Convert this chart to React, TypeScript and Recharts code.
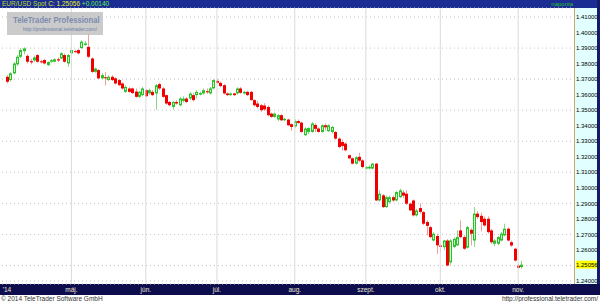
import React from 'react';
import { ComposedChart, Bar, XAxis, YAxis, CartesianGrid, ReferenceLine } from 'recharts';

// Daily EUR/USD candles, 4 Apr 2014 .. 4 Nov 2014
const opens = [
  1.3715, 1.3694, 1.3737, 1.3795, 1.3844, 1.3880, 1.3850, 1.3816, 1.3820, 1.3855,
  1.3815, 1.3823, 1.3790, 1.3812, 1.3812, 1.3828, 1.3833, 1.3855, 1.3801, 1.3866,
  1.3880, 1.3887, 1.3900, 1.3920, 1.3908, 1.3833, 1.3747, 1.3758, 1.3705, 1.3712,
  1.3694, 1.3715, 1.3705, 1.3694, 1.3672, 1.3618, 1.3640, 1.3640, 1.3620, 1.3586,
  1.3597, 1.3629, 1.3608, 1.3618, 1.3608, 1.3668, 1.3640, 1.3597, 1.3553, 1.3521,
  1.3553, 1.3532, 1.3560, 1.3575, 1.3575, 1.3597, 1.3597, 1.3600, 1.3608, 1.3622,
  1.3608, 1.3640, 1.3689, 1.3676, 1.3661, 1.3608, 1.3597, 1.3608, 1.3608, 1.3640,
  1.3608, 1.3618, 1.3618, 1.3565, 1.3543, 1.3532, 1.3530, 1.3521, 1.3478, 1.3457,
  1.3440, 1.3468, 1.3435, 1.3440, 1.3410, 1.3395, 1.3430, 1.3420, 1.3339, 1.3360,
  1.3360, 1.3405, 1.3382, 1.3360, 1.3403, 1.3365, 1.3360, 1.3360, 1.3317, 1.3295,
  1.3285, 1.3210, 1.3190, 1.3156, 1.3200, 1.3177, 1.3124, 1.3125, 1.3124, 1.3156,
  1.2919, 1.2952, 1.2876, 1.2908, 1.2940, 1.2919, 1.2940, 1.2970, 1.2962, 1.2898,
  1.2919, 1.2823, 1.2870, 1.2844, 1.2780, 1.2747, 1.2661, 1.2690, 1.2629, 1.2618,
  1.2661, 1.2520, 1.2620, 1.2630, 1.2726, 1.2683, 1.2615, 1.2730, 1.2661, 1.2834,
  1.2820, 1.2801, 1.2801, 1.2726, 1.2640, 1.2640, 1.2661, 1.2694, 1.2737, 1.2650,
  1.2608, 1.2500, 1.2490,
];
const highs = [
  1.3726, 1.3745, 1.3810, 1.3855, 1.3900, 1.3905, 1.3860, 1.3830, 1.3850, 1.3862,
  1.3825, 1.3830, 1.3815, 1.3830, 1.3835, 1.3840, 1.3875, 1.3865, 1.3862, 1.3895,
  1.3890, 1.3895, 1.3950, 1.3945, 1.3993, 1.3840, 1.3775, 1.3765, 1.3740, 1.3745,
  1.3725, 1.3725, 1.3712, 1.3700, 1.3680, 1.3660, 1.3648, 1.3645, 1.3640, 1.3625,
  1.3650, 1.3635, 1.3640, 1.3630, 1.3670, 1.3677, 1.3648, 1.3600, 1.3560, 1.3560,
  1.3565, 1.3585, 1.3590, 1.3585, 1.3615, 1.3610, 1.3630, 1.3620, 1.3640, 1.3640,
  1.3650, 1.3700, 1.3700, 1.3685, 1.3668, 1.3615, 1.3615, 1.3612, 1.3648, 1.3650,
  1.3625, 1.3625, 1.3625, 1.3570, 1.3560, 1.3540, 1.3545, 1.3530, 1.3485, 1.3485,
  1.3475, 1.3475, 1.3450, 1.3445, 1.3415, 1.3440, 1.3440, 1.3425, 1.3390, 1.3390,
  1.3425, 1.3415, 1.3390, 1.3410, 1.3415, 1.3410, 1.3400, 1.3365, 1.3325, 1.3310,
  1.3292, 1.3215, 1.3195, 1.3205, 1.3225, 1.3185, 1.3142, 1.3145, 1.3160, 1.3160,
  1.2984, 1.2960, 1.2950, 1.2950, 1.2950, 1.2980, 1.2995, 1.2984, 1.2984, 1.2905,
  1.2925, 1.2865, 1.2900, 1.2850, 1.2790, 1.2755, 1.2715, 1.2705, 1.2640, 1.2665,
  1.2670, 1.2670, 1.2680, 1.2726, 1.2790, 1.2695, 1.2755, 1.2740, 1.2876, 1.2850,
  1.2840, 1.2815, 1.2815, 1.2735, 1.2670, 1.2690, 1.2715, 1.2769, 1.2745, 1.2660,
  1.2615, 1.2510, 1.2530,
];
const lows = [
  1.3672, 1.3685, 1.3730, 1.3785, 1.3835, 1.3860, 1.3800, 1.3795, 1.3812, 1.3805,
  1.3800, 1.3795, 1.3785, 1.3805, 1.3808, 1.3810, 1.3828, 1.3805, 1.3779, 1.3860,
  1.3870, 1.3860, 1.3895, 1.3915, 1.3835, 1.3740, 1.3740, 1.3700, 1.3700, 1.3660,
  1.3688, 1.3688, 1.3665, 1.3655, 1.3632, 1.3612, 1.3612, 1.3605, 1.3580, 1.3578,
  1.3590, 1.3585, 1.3600, 1.3590, 1.3503, 1.3630, 1.3580, 1.3535, 1.3525, 1.3505,
  1.3535, 1.3525, 1.3550, 1.3545, 1.3565, 1.3555, 1.3575, 1.3595, 1.3600, 1.3605,
  1.3600, 1.3635, 1.3670, 1.3648, 1.3600, 1.3590, 1.3590, 1.3590, 1.3600, 1.3605,
  1.3600, 1.3590, 1.3560, 1.3525, 1.3510, 1.3490, 1.3495, 1.3460, 1.3450, 1.3450,
  1.3430, 1.3430, 1.3428, 1.3398, 1.3368, 1.3388, 1.3412, 1.3355, 1.3333, 1.3345,
  1.3355, 1.3360, 1.3355, 1.3355, 1.3370, 1.3360, 1.3350, 1.3310, 1.3255, 1.3240,
  1.3235, 1.3185, 1.3150, 1.3150, 1.3165, 1.3125, 1.3118, 1.3118, 1.3118, 1.2915,
  1.2912, 1.2870, 1.2870, 1.2900, 1.2910, 1.2912, 1.2935, 1.2935, 1.2890, 1.2850,
  1.2815, 1.2815, 1.2835, 1.2760, 1.2694, 1.2675, 1.2655, 1.2575, 1.2590, 1.2600,
  1.2495, 1.2505, 1.2610, 1.2625, 1.2675, 1.2600, 1.2610, 1.2630, 1.2620, 1.2800,
  1.2720, 1.2750, 1.2705, 1.2640, 1.2625, 1.2630, 1.2655, 1.2688, 1.2655, 1.2620,
  1.2525, 1.2480, 1.2480,
];
const closes = [
  1.3683, 1.3737, 1.3801, 1.3844, 1.3887, 1.3898, 1.3812, 1.3808, 1.3840, 1.3812,
  1.3808, 1.3801, 1.3810, 1.3822, 1.3828, 1.3820, 1.3866, 1.3812, 1.3855, 1.3887,
  1.3876, 1.3866, 1.3941, 1.3930, 1.3844, 1.3747, 1.3768, 1.3705, 1.3726, 1.3706,
  1.3715, 1.3694, 1.3672, 1.3661, 1.3640, 1.3650, 1.3618, 1.3610, 1.3586, 1.3618,
  1.3640, 1.3590, 1.3629, 1.3597, 1.3661, 1.3640, 1.3586, 1.3543, 1.3532, 1.3553,
  1.3543, 1.3575, 1.3575, 1.3553, 1.3607, 1.3565, 1.3618, 1.3610, 1.3629, 1.3615,
  1.3640, 1.3694, 1.3676, 1.3655, 1.3608, 1.3597, 1.3608, 1.3597, 1.3640, 1.3612,
  1.3618, 1.3597, 1.3565, 1.3532, 1.3521, 1.3500, 1.3505, 1.3468, 1.3457, 1.3478,
  1.3468, 1.3435, 1.3445, 1.3403, 1.3392, 1.3430, 1.3418, 1.3360, 1.3382, 1.3385,
  1.3414, 1.3380, 1.3360, 1.3403, 1.3390, 1.3403, 1.3392, 1.3317, 1.3263, 1.3270,
  1.3242, 1.3190, 1.3156, 1.3197, 1.3175, 1.3134, 1.3134, 1.3135, 1.3156, 1.2919,
  1.2962, 1.2876, 1.2940, 1.2940, 1.2919, 1.2973, 1.2984, 1.2950, 1.2898, 1.2855,
  1.2823, 1.2855, 1.2845, 1.2769, 1.2755, 1.2683, 1.2705, 1.2630, 1.2620, 1.2661,
  1.2500, 1.2661, 1.2672, 1.2683, 1.2683, 1.2608, 1.2747, 1.2705, 1.2834, 1.2812,
  1.2780, 1.2758, 1.2715, 1.2650, 1.2661, 1.2683, 1.2705, 1.2737, 1.2661, 1.2629,
  1.2532, 1.2485, 1.25056,
];

const monthSlots = [0, 20, 42, 63, 86, 107, 129, 152];
const monthLabels = ["'14", 'máj.', 'jún.', 'júl.', 'aug.', 'szept.', 'okt.', 'nov.'];
const priceTicks = [1.24, 1.25, 1.26, 1.27, 1.28, 1.29, 1.30, 1.31, 1.32, 1.33, 1.34, 1.35, 1.36, 1.37, 1.38, 1.39, 1.40, 1.41];
const lastPrice = 1.25056;

const LEAD = 1;
const TOTAL_SLOTS = 169;

const data = Array.from({ length: TOTAL_SLOTS }, (_, s) => {
  const i = s - LEAD;
  if (i >= 0 && i < opens.length) {
    return { s, o: opens[i], h: highs[i], l: lows[i], c: closes[i], range: [lows[i], highs[i]] };
  }
  return { s, range: null };
});

const FONT = '"Liberation Sans", Arial, sans-serif';

const Candle = (props: any) => {
  const { x, y, width, height, payload } = props;
  if (!payload || payload.o == null || x == null) return null;
  const { o, h, l, c } = payload;
  const top = Math.min(y, y + height);
  const hh = Math.abs(height);
  const py = (p: number) => (h === l ? top : top + ((h - p) / (h - l)) * hh);
  const up = c >= o;
  const cx = Math.round(x + width / 2) + 0.5;
  const bTop = py(Math.max(o, c));
  const bBot = py(Math.min(o, c));
  const bh = Math.max(bBot - bTop, 1);
  return (
    <g>
      <line x1={cx} x2={cx} y1={top} y2={top + hh} stroke={up ? '#86dc86' : '#f39a9a'} strokeWidth={1} />
      {up ? (
        <rect x={cx - 1} y={bTop + 0.5} width={2} height={Math.max(bh - 1, 0.5)} fill="#c8f7c8" stroke="#2cc02c" strokeWidth={1} />
      ) : (
        <rect x={cx - 1.5} y={bTop} width={3} height={bh} fill="#f00000" />
      )}
    </g>
  );
};

const MonthTick = (props: any) => {
  const { x, payload } = props;
  const k = monthSlots.indexOf(payload.value);
  if (k < 0) return null;
  const first = k === 0;
  return (
    <text x={first ? x - 1 : x} y={292} textAnchor={first ? 'start' : 'middle'} fontSize={6.5} fontFamily={FONT} fill="#ece8cc">
      {monthLabels[k]}
    </text>
  );
};

const PriceLabel = (props: any) => {
  const vb = props.viewBox || {};
  const xr = (vb.x || 0) + (vb.width || 0);
  const yy = vb.y || 0;
  return (
    <g>
      <rect x={xr + 2} y={yy - 4} width={21} height={8} fill="#ffff00" />
      <text x={xr + 2} y={yy + 2.3} fontSize={6} fontFamily={FONT} fill="#000">{lastPrice.toFixed(5)}</text>
    </g>
  );
};

export default function App() {
  return (
    <div style={{ position: 'fixed', left: 0, top: 0, width: 600, height: 302, background: '#fff', overflow: 'hidden', fontFamily: FONT }}>
      {/* header bar */}
      <div style={{ position: 'absolute', left: 0, top: 0, width: 600, height: 8, background: '#1b2c93' }} />
      <div style={{ position: 'absolute', left: 2, top: 0, height: 8, lineHeight: '8px', fontSize: 6.5, whiteSpace: 'nowrap' }}>
        <span style={{ color: '#b6dc1e' }}>EUR/USD Spot</span>
        <span style={{ color: '#e4f020' }}> C: 1.25056 </span>
        <span style={{ color: '#5cf04a' }}>+0.00140</span>
      </div>
      <div style={{ position: 'absolute', left: 548, width: 25, top: 0, height: 8, lineHeight: '8px', fontSize: 6, color: '#22c42a', textAlign: 'right' }}>naponta</div>
      {/* right axis panel */}
      <div style={{ position: 'absolute', left: 574, top: 8, width: 23, height: 276, background: '#e2ffff' }} />
      <div style={{ position: 'absolute', left: 574, top: 8, width: 1, height: 276, background: '#c9a865' }} />
      <div style={{ position: 'absolute', left: 597, top: 0, width: 3, height: 295, background: '#141a6e' }} />
      {/* bottom band */}
      <div style={{ position: 'absolute', left: 0, top: 284, width: 600, height: 11, background: '#0d0d4d' }} />
      {/* chart */}
      <div style={{ position: 'absolute', left: 0, top: 0 }}>
        <ComposedChart width={600} height={295} data={data} margin={{ top: 8, right: 3, bottom: 0, left: 0 }} barCategoryGap={0}>
          <CartesianGrid vertical={false} horizontal stroke="#c4c4c4" strokeDasharray="1 3" />
          {monthSlots.slice(1).map((s) => (
            <ReferenceLine key={s} x={s} stroke="#dadada" strokeWidth={1} />
          ))}
          <XAxis dataKey="s" type="category" interval={0} height={11} tickLine={false} axisLine={false} tick={<MonthTick />} />
          <YAxis yAxisId="l" orientation="left" width={2} domain={[1.2381, 1.4158]} ticks={priceTicks} allowDataOverflow tick={false} tickSize={2} tickLine={{ stroke: '#444' }} axisLine={false} />
          <YAxis
            orientation="right"
            width={23}
            domain={[1.2381, 1.4158]}
            ticks={priceTicks}
            allowDataOverflow
            tickLine={false}
            axisLine={false}
            tickSize={0}
            tickMargin={2}
            tickFormatter={(v: number) => (Math.abs(v - 1.25) < 1e-9 ? '' : v.toFixed(5))}
            tick={{ fontSize: 6, fill: '#000', fontFamily: FONT }}
          />
          <ReferenceLine y={lastPrice} stroke="none" label={<PriceLabel />} />
          <Bar dataKey="range" barSize={3} shape={<Candle />} isAnimationActive={false} />
        </ComposedChart>
      </div>
      {/* watermark */}
      <div style={{ position: 'absolute', left: 7, top: 12, width: 96, height: 23, background: 'rgba(192,192,192,0.82)' }}>
        <div style={{ position: 'absolute', left: 6, top: 2, fontSize: 9.5, fontWeight: 'bold', color: '#7c8cb0', whiteSpace: 'nowrap', transform: 'scaleX(0.81)', transformOrigin: 'left top' }}>
          TeleTrader Professional
        </div>
        <div style={{ position: 'absolute', left: 16, top: 14, fontSize: 5, color: '#6d7fa8', whiteSpace: 'nowrap' }}>http://professional.teletrader.com/</div>
      </div>
      {/* footer */}
      <div style={{ position: 'absolute', left: 1, top: 295, height: 7, lineHeight: '7px', fontSize: 6.5, color: '#333', whiteSpace: 'nowrap' }}>© 2014 TeleTrader Software GmbH</div>
      <div style={{ position: 'absolute', right: 2, top: 295, height: 7, lineHeight: '7px', fontSize: 6.5, color: '#333', whiteSpace: 'nowrap' }}>http://professional.teletrader.com/</div>
    </div>
  );
}
